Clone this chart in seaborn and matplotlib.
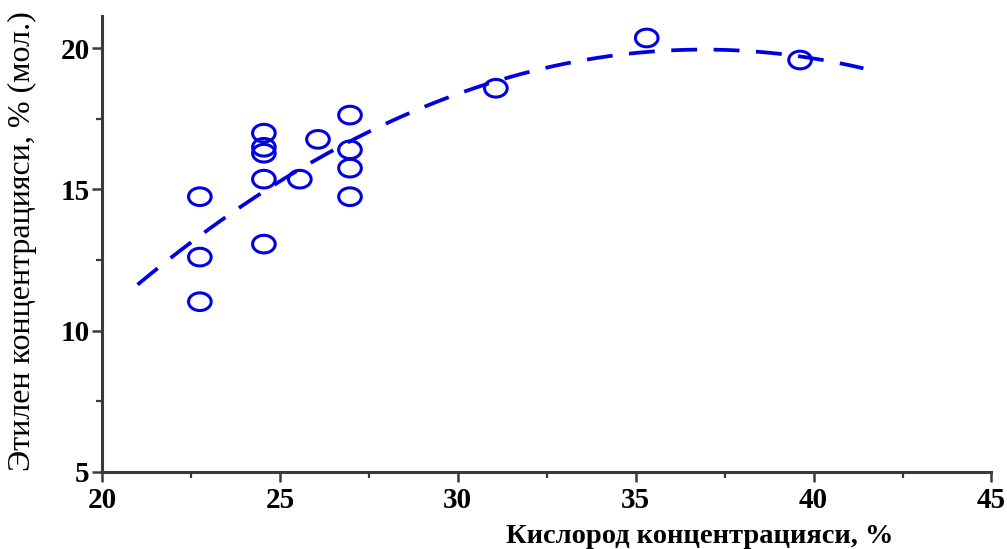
import numpy as np
import pandas as pd
import matplotlib
matplotlib.use("Agg")
import matplotlib.pyplot as plt
from matplotlib.path import Path
from matplotlib.ticker import MultipleLocator
import seaborn as sns

# Measurements: oxygen concentration (%) vs ethylene concentration (% mol.)
oxygen = [22.75, 22.75, 22.75,
          24.55, 24.55, 24.55, 24.55, 24.55,
          25.56, 26.07,
          26.97, 26.97, 26.97, 26.97,
          31.07, 35.31, 39.62]
ethylene = [14.74, 12.60, 11.02,
            16.99, 16.49, 16.28, 15.36, 13.06,
            15.36, 16.77,
            17.63, 16.40, 15.75, 14.74,
            18.58, 20.36, 19.58]

# Range over which the quadratic trend is drawn
trend_range = [21.0, 41.4]

x_ticks = [20, 25, 30, 35, 40, 45]
y_ticks = [5, 10, 15, 20]

xlabel = "Кислород концентрацияси, %"
ylabel = "Этилен концентрацияси, % (мол.)"

df = pd.DataFrame({"oxygen": oxygen, "ethylene": ethylene})

# second-order least-squares trend through the measurements
coef = np.polyfit(df["oxygen"], df["ethylene"], 2)
tx = np.linspace(trend_range[0], trend_range[1], 200)
trend = pd.DataFrame({"oxygen": tx, "ethylene": np.polyval(coef, tx)})

sns.set_theme(style="ticks")
plt.rcParams["font.family"] = ["Liberation Serif", "DejaVu Serif"]

BLUE = "#0000e0"
AXC = "#3a3a3a"

fig = plt.figure(figsize=(10.07, 5.49), dpi=100)
ax = fig.add_axes([0.1013, 0.1408, 0.8833, 0.8301])

# slightly wide open ellipse as marker
t = np.linspace(0, 2 * np.pi, 60)
ell = Path(np.column_stack([1.28 * np.cos(t), np.sin(t)]), closed=True)

sns.lineplot(data=trend, x="oxygen", y="ethylene", ax=ax, color=BLUE,
             linewidth=2.7, linestyle=(0, (6.9, 4.4)), dash_capstyle="butt")
sns.scatterplot(data=df, x="oxygen", y="ethylene", ax=ax, marker=ell,
                s=265, facecolors="none", edgecolor=BLUE, linewidth=2.2,
                zorder=3)

ax.set_xlim(20, 45)
ax.set_ylim(5, 21.14)
ax.set_xticks(x_ticks)
ax.set_yticks(y_ticks)
ax.xaxis.set_minor_locator(MultipleLocator(2.5))
ax.yaxis.set_minor_locator(MultipleLocator(2.5))

for lab in ax.get_xticklabels() + ax.get_yticklabels():
    lab.set_fontweight("bold")
ax.tick_params(which="major", direction="out", length=7, width=1.8,
               color=AXC, labelsize=21, labelcolor="black")
ax.tick_params(axis="x", which="major", pad=4)
ax.tick_params(axis="y", which="major", pad=2)
ax.tick_params(which="minor", direction="out", length=4, width=1.6, color=AXC)

sns.despine(ax=ax)
for side in ("left", "bottom"):
    ax.spines[side].set_linewidth(2.2)
    ax.spines[side].set_color(AXC)

ax.set_xlabel(xlabel, fontsize=20.5, fontweight="bold", color="black")
ax.xaxis.set_label_coords(0.672, -0.114)
ax.set_ylabel(ylabel, fontsize=23, color="black")
ax.yaxis.set_label_coords(-0.073, 0.507)

fig.savefig("out.png", dpi=100)
